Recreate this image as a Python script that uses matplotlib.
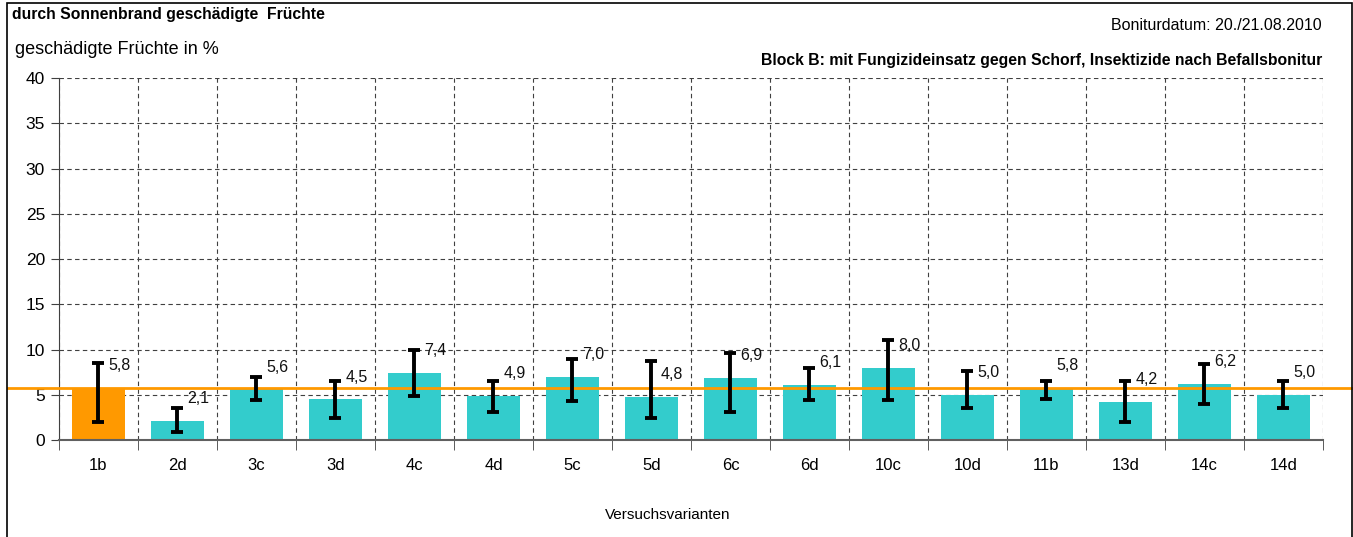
import matplotlib.pyplot as plt
from matplotlib.patches import Rectangle

# Data
varianten = ["1b", "2d", "3c", "3d", "4c", "4d", "5c", "5d",
             "6c", "6d", "10c", "10d", "11b", "13d", "14c", "14d"]
werte = [5.8, 2.1, 5.6, 4.5, 7.4, 4.9, 7.0, 4.8,
         6.9, 6.1, 8.0, 5.0, 5.8, 4.2, 6.2, 5.0]
fehler_oben = [8.5, 3.5, 7.0, 6.5, 9.9, 6.5, 9.0, 8.7,
               9.6, 8.0, 11.0, 7.6, 6.5, 6.5, 8.4, 6.5]
fehler_unten = [2.0, 0.9, 4.4, 2.4, 4.9, 3.1, 4.3, 2.4,
                3.1, 4.4, 4.4, 3.5, 4.5, 2.0, 4.0, 3.5]
kontrolle = 5.8

plt.rcParams["font.family"] = ["Liberation Sans", "DejaVu Sans"]

fig = plt.figure(figsize=(13.53, 5.37), dpi=100)
ax = fig.add_axes([0.0436, 0.1806, 0.9342, 0.6741])

x = list(range(len(varianten)))
farben = ["#FF9900"] + ["#33CCCC"] * (len(varianten) - 1)
ax.bar(x, werte, width=0.66, color=farben, zorder=2)

err_low = [w - u for w, u in zip(werte, fehler_unten)]
err_high = [o - w for w, o in zip(werte, fehler_oben)]
ax.errorbar(x, werte, yerr=[err_low, err_high], fmt="none", ecolor="black",
            elinewidth=2.8, capsize=4, capthick=2.8, zorder=4)

for xi, w in zip(x, werte):
    ax.annotate(f"{w:.1f}".replace(".", ","), (xi, w), xytext=(15, 16),
                textcoords="offset points", ha="center", va="center",
                fontsize=11.5, color="#111111", zorder=5)

# control line across the whole figure
ax.axhline(kontrolle, xmin=-0.04, xmax=1.03, color="#FF9900", linewidth=2,
           clip_on=False, zorder=3)

ax.set_xlim(-0.5, len(varianten) - 0.5)
ax.set_ylim(0, 40)
ax.set_yticks(range(0, 41, 5))
ax.set_xticks(x)
ax.set_xticklabels(varianten)
ax.set_xticks([i - 0.5 for i in range(len(varianten) + 1)], minor=True)

ax.tick_params(axis="x", which="major", length=0, pad=13, labelsize=12)
ax.tick_params(axis="x", which="minor", length=7, color="#404040", direction="out")
ax.tick_params(axis="y", length=6, color="#404040", labelsize=12.5, pad=4)

ax.grid(True, axis="y", which="major", color="#404040", linestyle=(0, (4, 3)),
        linewidth=0.8, zorder=0)
ax.grid(True, axis="x", which="minor", color="#404040", linestyle=(0, (4, 3)),
        linewidth=0.8, zorder=0)
ax.set_axisbelow(True)

for s in ["top", "right"]:
    ax.spines[s].set_visible(False)
ax.spines["left"].set_color("#404040")
ax.spines["bottom"].set_color("#606060")
ax.spines["bottom"].set_linewidth(1.5)

# texts around the chart
fig.text(668 / 1353, 1 - 515 / 537, "Versuchsvarianten",
         fontsize=11, va="center", ha="center")
fig.text(12 / 1353, 1 - 14 / 537, "durch Sonnenbrand geschädigte  Früchte",
         fontsize=11.3, fontweight="bold", va="center", ha="left")
fig.text(15 / 1353, 1 - 50 / 537, "geschädigte Früchte in %",
         fontsize=13, va="center", ha="left")
fig.text(1322 / 1353, 1 - 26 / 537, "Boniturdatum: 20./21.08.2010",
         fontsize=11.5, va="center", ha="right")
fig.text(1322 / 1353, 1 - 60 / 537,
         "Block B: mit Fungizideinsatz gegen Schorf, Insektizide nach Befallsbonitur",
         fontsize=11.3, fontweight="bold", va="center", ha="right")

# frame around the chart area
fig.patches.append(Rectangle((7 / 1353, -0.02), 1345 / 1353, 1.02 - 3 / 537,
                             transform=fig.transFigure, fill=False,
                             edgecolor="black", linewidth=1.2))

fig.savefig("out.png", dpi=100)
